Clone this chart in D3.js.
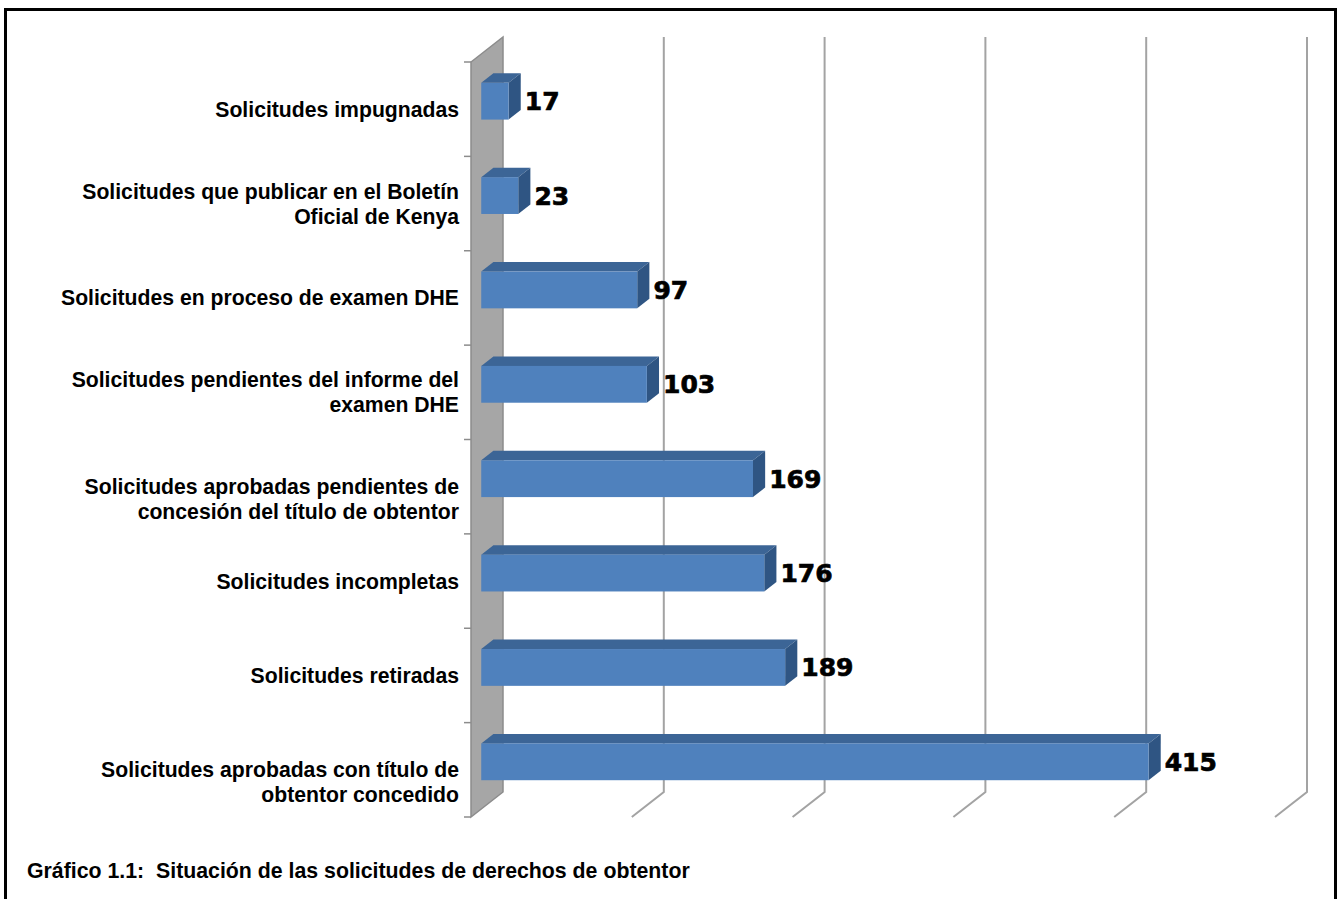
<!DOCTYPE html>
<html lang="es">
<head>
<meta charset="utf-8">
<title>Gráfico 1.1</title>
<script src="https://d3js.org/d3.v7.min.js"></script>
<style>
  body { margin: 0; background: #fff; }
  text { font-family: "Liberation Sans", Arial, sans-serif; }
</style>
</head>
<body>
<div id="chart"></div>
<script>
// data, top to bottom
var categories = [
  "Solicitudes impugnadas",
  "Solicitudes que publicar en el Boletín\nOficial de Kenya",
  "Solicitudes en proceso de examen DHE",
  "Solicitudes pendientes del informe del\nexamen DHE",
  "\nSolicitudes aprobadas pendientes de\nconcesión del título de obtentor",
  "Solicitudes incompletas",
  "Solicitudes retiradas",
  "\nSolicitudes aprobadas con título de\nobtentor concedido"
];
var values = [17, 23, 97, 103, 169, 176, 189, 415];
var xTicks = [0, 100, 200, 300, 400, 500];
var title = "Gráfico 1.1:  Situación de las solicitudes de derechos de obtentor";

var w = 1338, h = 899;
var depthX = 32, depthY = -25;   // wall depth
var barD0 = 0.32, barD1 = 0.70;  // bar sits inside the depth

var svg = d3.select("#chart").append("svg")
  .attr("width", w).attr("height", h);

// x on the front plane
var xScale = d3.scaleLinear().domain([0, 500]).range([471, 1275]);
var yScale = d3.scaleBand().domain(d3.range(categories.length)).range([62, 817]);

// outer frame
svg.append("path")
  .attr("d", "M5.5,900V9.5H1335.5V900")
  .attr("fill", "none").attr("stroke", "#000").attr("stroke-width", 3);

// back wall
var y0 = yScale.range()[0], y1 = yScale.range()[1];
var wx = xScale(0);
svg.append("path")
  .attr("d", "M" + wx + "," + y0 + "V" + y1 + "L" + (wx + depthX) + "," + (y1 + depthY) +
             "V" + (y0 + depthY) + "Z")
  .attr("fill", "#a6a6a6").attr("stroke", "#8c8c8c").attr("stroke-width", 1.5);

// gridlines: back vertical + diagonal to front
svg.selectAll(".grid")
  .data(xTicks.slice(1))
  .enter().append("path")
  .attr("class", "grid")
  .attr("d", d => "M" + (xScale(d) + depthX) + "," + (y0 + depthY) +
                  "V" + (y1 + depthY) + "L" + xScale(d) + "," + y1)
  .attr("fill", "none").attr("stroke", "#a3a3a3").attr("stroke-width", 2);

// category ticks
svg.selectAll(".tick")
  .data(d3.range(categories.length + 1))
  .enter().append("line")
  .attr("x1", wx - 7).attr("x2", wx)
  .attr("y1", i => y0 + i * yScale.step())
  .attr("y2", i => y0 + i * yScale.step())
  .attr("stroke", "#8c8c8c").attr("stroke-width", 1.5);

// bars
var faceH = yScale.bandwidth() * 0.39;
var ox = barD0 * depthX, oy = barD0 * depthY;
var bdx = (barD1 - barD0) * depthX, bdy = (barD1 - barD0) * depthY;

var bars = svg.selectAll(".bar")
  .data(values)
  .enter().append("g").attr("class", "bar");

function cy(i) { return yScale(i) + yScale.bandwidth() / 2 + oy; }

bars.append("path") // top
  .attr("d", (d, i) => {
    var xa = xScale(0) + ox, xb = xScale(d) + ox, t = cy(i) - faceH / 2;
    return "M" + xa + "," + t + "L" + (xa + bdx) + "," + (t + bdy) +
           "H" + (xb + bdx) + "L" + xb + "," + t + "Z";
  })
  .attr("fill", "#3c6596");
bars.append("path") // side
  .attr("d", (d, i) => {
    var xb = xScale(d) + ox, t = cy(i) - faceH / 2;
    return "M" + xb + "," + t + "L" + (xb + bdx) + "," + (t + bdy) +
           "V" + (t + faceH + bdy) + "L" + xb + "," + (t + faceH) + "Z";
  })
  .attr("fill", "#2f5583");
bars.append("rect") // front
  .attr("x", xScale(0) + ox)
  .attr("y", (d, i) => cy(i) - faceH / 2)
  .attr("width", d => xScale(d) - xScale(0))
  .attr("height", faceH)
  .attr("fill", "#4f81bd");

// value labels
bars.append("text")
  .attr("x", d => xScale(d) + ox + bdx + 4)
  .attr("y", (d, i) => cy(i))
  .attr("dy", "0.36em")
  .style("font-family", "'DejaVu Sans', sans-serif")
  .style("font-weight", "bold")
  .style("font-size", "25px")
  .attr("stroke", "#000").attr("stroke-width", 0.7)
  .text(d => d);

// category labels
var lineH = 25;
svg.selectAll(".cat")
  .data(categories)
  .enter().append("text")
  .attr("class", "cat")
  .attr("text-anchor", "end")
  .style("font-weight", "bold")
  .style("font-size", "21.2px")
  .each(function(d, i) {
    var lines = d.split("\n");
    var mid = yScale(i) + yScale.bandwidth() / 2;
    var first = mid - (lines.length - 1) * lineH / 2 + 7.5;
    d3.select(this).selectAll("tspan")
      .data(lines).enter().append("tspan")
      .attr("x", 459)
      .attr("y", (l, k) => first + k * lineH)
      .text(l => l);
  });

// caption
svg.append("text")
  .attr("x", 27).attr("y", 878)
  .style("font-weight", "bold")
  .style("font-size", "21.3px")
  .style("white-space", "pre")
  .text(title);
</script>
</body>
</html>
